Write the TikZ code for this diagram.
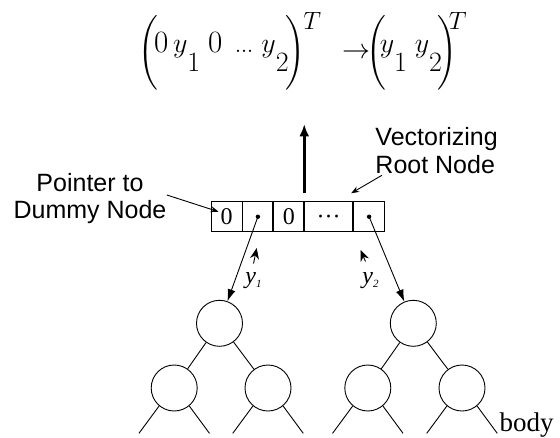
\RequirePackage{fix-cm}
\documentclass[tikz,border=0pt]{standalone}
\usepackage{amsmath}
\usepackage{fontspec}
\newfontfamily\labelfont{Liberation Sans}
\newfontfamily\cellfont{Liberation Serif}
\usepackage{tikz}
\usetikzlibrary{positioning,arrows.meta}

% pieces of the vector formula
\newcommand{\dsub}[1]{\lower19pt\hbox{#1}}
\newcommand{\zr}{\hbox{\fontsize{31}{31}\selectfont 0}}
\newcommand{\dts}{\hbox{.\kern-1pt.\kern-1pt.}}
\newcommand{\supT}{\raisebox{23pt}{\fontsize{25}{25}\selectfont$T$}}
\newcommand{\lpar}{\raisebox{-8pt}{$\biggl($}}
\newcommand{\rpar}{\raisebox{-8pt}{$\biggr)$}}

\begin{document}
\begin{tikzpicture}[x=1pt,y=-1pt,>=Stealth,line width=0.9pt,
  cell/.style={draw,minimum height=30pt,inner sep=0pt,font=\cellfont\fontsize{24}{24}\selectfont},
  treenode/.style={circle,draw,minimum size=46pt,inner sep=0pt},
  lbl/.style={inner sep=0pt,font=\labelfont\fontsize{25}{27}\selectfont},
  ylbl/.style={inner sep=0pt,anchor=base west,font=\cellfont\itshape\fontsize{24}{24}\selectfont},
  ptr/.style={-{Latex[length=12pt,width=8pt]}},
  tagarr/.style={-{Stealth[length=11pt,width=9pt]}},
  lblarr/.style={-{Stealth[length=8pt,width=6pt]}},
  bigarr/.style={line width=2.6pt,-{Latex[length=12pt,width=10pt]}}]
  \useasboundingbox (0,0) rectangle (560,437);

  % formula
  \node[anchor=base west,inner sep=0pt,font=\fontsize{28}{34}\selectfont] (vec) at (138,52)
    {$\lpar\kern-4pt\zr\,y\dsub{1}\;\zr\;\,\dts\;y\dsub{2}\kern-3pt\rpar\kern-2pt\supT\kern21pt\raisebox{-6pt}{$\rightarrow$}\kern-4pt\lpar\kern-6pt y\dsub{1}\;y\dsub{2}\kern-5pt\rpar\kern-8pt\supT$};

  % vectorizing root node
  \node[cell,minimum width=31pt] (c1) at (226.5,216.7) {0};
  \node[cell,minimum width=30pt,right=0pt of c1] (c2) {};
  \node[cell,minimum width=30pt,right=0pt of c2] (c3) {0};
  \node[cell,minimum width=48pt,right=0pt of c3] (c4) {\vphantom{0}···};
  \node[cell,minimum width=31pt,right=0pt of c4] (c5) {};
  \fill (c2.center) circle (2.2);
  \fill (c5.center) circle (2.2);
  \draw[bigarr] ([yshift=8pt]c3.north east) -- ([yshift=77pt]c3.north east);

  \node[lbl,align=center] (dummy) at (90,199) {Pointer to\\Dummy Node};
  \draw[lblarr] ([yshift=4pt]dummy.east) -- ([shift={(8,-5)}]c1.west);
  \node[lbl,align=left,anchor=north west,font=\labelfont\fontsize{25}{28}\selectfont] (vrn) at (375,127) {Vectorizing\\Root Node};
  \draw[lblarr] ([shift={(7,1)}]vrn.south west) -- ([shift={(-2,-8)}]c4.north east);

  % trees
  \node[treenode] (L) at (219.5,323.3) {};
  \node[treenode] (LL) at (174.2,388) {};
  \node[treenode] (LR) at (268,388) {};
  \node[treenode] (R) at (413.3,323.3) {};
  \node[treenode] (RL) at (367.8,388) {};
  \node[treenode] (RR) at (462,388) {};
  \foreach \p/\c in {L/LL,L/LR,R/RL,R/RR}
    \draw (\p) -- (\c);
  \foreach \n in {LL,LR,RL,RR} {
    \path (\n.230) ++(-20.2,27.4) coordinate (\n-a);
    \path (\n.310) ++(20.2,27.4) coordinate (\n-b);
    \draw (\n.230) -- (\n-a);
    \draw (\n.310) -- (\n-b);
  }
  \node[inner sep=0pt,anchor=base west,font=\cellfont\fontsize{27}{27}\selectfont] (body) at ([shift={(2,-2)}]RR-b) {body};

  % pointers
  \draw[ptr] (c2.center) -- (L);
  \draw[ptr] (c5.center) -- (R);
  \node[ylbl] (y1) at (245,283) {y\raisebox{-4pt}{\fontsize{11}{11}\selectfont 1}};
  \node[ylbl] (y2) at (362,283) {y\raisebox{-4pt}{\fontsize{11}{11}\selectfont 2}};
  \coordinate (y1tip) at (256.7,248);
  \coordinate (y2tip) at (360.5,250);
  \draw[tagarr] ([yshift=8pt]y1.north) -- (y1tip);
  \draw[tagarr] ([shift={(-5,-10)}]y2.north) -- (y2tip);
\end{tikzpicture}
\end{document}
